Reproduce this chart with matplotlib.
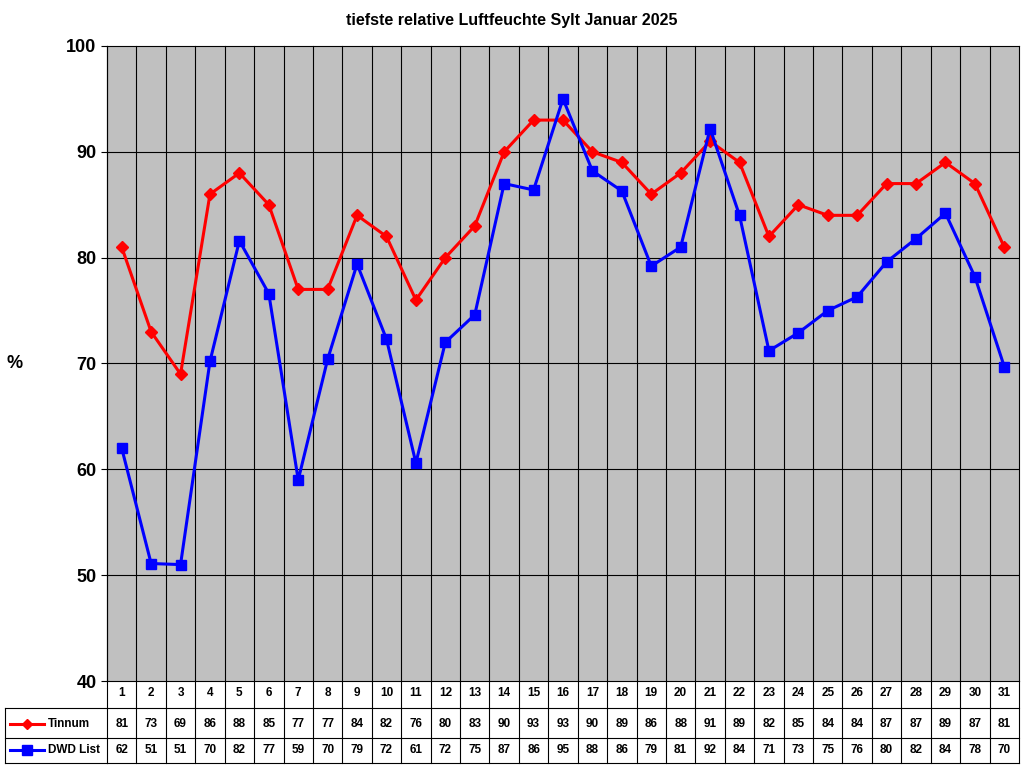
import numpy as np
import matplotlib.pyplot as plt
from matplotlib.transforms import blended_transform_factory

plt.rcParams['font.family'] = ['Liberation Sans', 'DejaVu Sans']

days = list(range(1, 32))
tinnum = [81, 73, 69, 86, 88, 85, 77, 77, 84, 82, 76, 80, 83, 90, 93, 93, 90, 89, 86, 88,
          91, 89, 82, 85, 84, 84, 87, 87, 89, 87, 81]
dwd = [62, 51.1, 51, 70.2, 81.6, 76.6, 59, 70.4, 79.4, 72.3, 60.6, 72, 74.6, 87, 86.4, 95,
       88.2, 86.3, 79.2, 81, 92.2, 84, 71.2, 72.9, 75, 76.3, 79.6, 81.8, 84.2, 78.2, 69.7]
series_names = ['Tinnum', 'DWD List']

fig = plt.figure(figsize=(10.24, 7.68), dpi=100)
ax = fig.add_axes([107/1024, 1-681/768, (1019-107)/1024, (681-46)/768])
ax.set_facecolor('#C0C0C0')

ax.plot(days, tinnum, color='#FF0000', lw=2.2, marker='D', ms=6, zorder=3)
ax.plot(days, dwd, color='#0000FF', lw=2.2, marker='s', ms=7.5, zorder=3)

ax.set_xlim(0.5, 31.5)
ax.set_ylim(40, 100)
ax.set_yticks(range(40, 101, 10))
ax.set_xticks([])
for lbl in ax.get_yticklabels():
    lbl.set_fontweight('bold')
    lbl.set_fontsize(13)
ax.tick_params(axis='y', length=4)
for y in range(50, 100, 10):
    ax.axhline(y, color='black', lw=0.8, zorder=1)
for s in ax.spines.values():
    s.set_color('black')

fig.text(15/1024, 1-363/768, '%', fontsize=13, fontweight='bold', ha='center', va='center')
fig.text(0.5, 1-20/768, 'tiefste relative Luftfeuchte Sylt Januar 2025', fontsize=11.5,
         fontweight='bold', ha='center', va='center')

# data table below the plot
h = 681 - 46
def ay(px):
    return (681 - px) / h
tr = blended_transform_factory(ax.transData, ax.transAxes)
bottom = ay(763)
for k in range(31):
    xb = k + 0.5
    ax.plot([xb, xb], [1, bottom], color='black', lw=0.8, transform=tr, clip_on=False, zorder=2)
ax.plot([31.5, 31.5], [0, bottom], color='black', lw=0.8, transform=tr, clip_on=False)
for yb in [708, 738, 763]:
    ax.plot([0.5, 31.5], [ay(yb)] * 2, color='black', lw=0.8, transform=tr, clip_on=False)

def fx(px):
    return px / 1024
def fy(px):
    return 1 - px / 768
for yb in [708, 738, 763]:
    fig.add_artist(plt.Line2D([fx(5), fx(107)], [fy(yb)] * 2, color='black', lw=0.8))
fig.add_artist(plt.Line2D([fx(5), fx(5)], [fy(708), fy(763)], color='black', lw=0.8))

for d in days:
    ax.text(d, ay(693), str(d), transform=tr, ha='center', va='center', fontsize=8.5, fontweight='bold')
for row_y, vals, col, mk, ms, name in [(724, tinnum, '#FF0000', 'D', 5, series_names[0]),
                                       (750, dwd, '#0000FF', 's', 6.5, series_names[1])]:
    for d, v in zip(days, vals):
        ax.text(d, ay(row_y), f'{v:.0f}', transform=tr, ha='center', va='center',
                fontsize=8.5, fontweight='bold')
    fig.add_artist(plt.Line2D([fx(10), fx(27), fx(44)], [fy(row_y)] * 3, color=col, lw=2.2,
                              marker=mk, ms=ms, markevery=[1]))
    fig.text(fx(48), fy(row_y), name, fontsize=8.5, fontweight='bold', va='center')

fig.savefig('out.png', dpi=100)
